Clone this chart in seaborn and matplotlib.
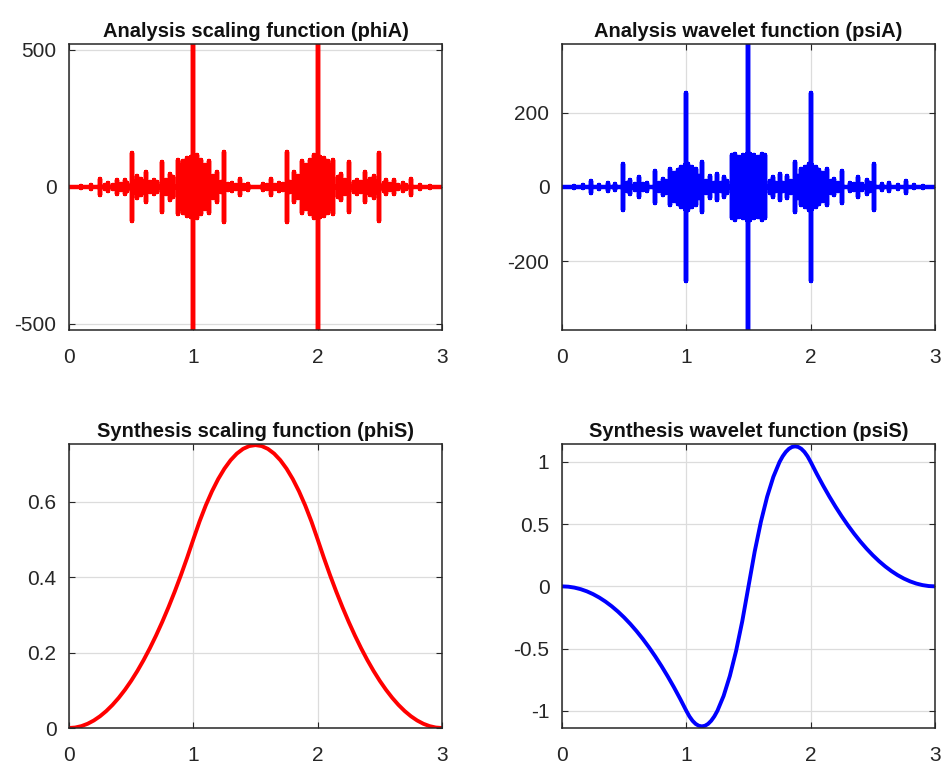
import matplotlib
matplotlib.use("Agg")
import pandas as pd
import matplotlib.pyplot as plt
import matplotlib.ticker as mticker
import seaborn as sns

# bior3.1 wavelet functions
x_ticks = [0, 1, 2, 3]

# analysis scaling function (phiA): spike positions and half heights
phiA_x = [0.0, 0.1, 0.18, 0.25, 0.29, 0.316, 0.35, 0.383, 0.42, 0.45,
          0.47, 0.504, 0.53, 0.55, 0.58, 0.60, 0.62, 0.65, 0.68, 0.71,
          0.75, 0.78, 0.81, 0.84, 0.874, 0.89, 0.905, 0.92, 0.935, 0.95,
          0.965, 0.98, 1.0, 1.015, 1.03, 1.045, 1.06, 1.075, 1.09, 1.11,
          1.126, 1.145, 1.16, 1.19, 1.22, 1.25, 1.28, 1.31, 1.345, 1.375,
          1.41, 1.44,
          1.56, 1.59, 1.625, 1.655, 1.69, 1.72, 1.75, 1.78, 1.81, 1.84,
          1.855, 1.874, 1.89, 1.91, 1.925, 1.94, 1.955, 1.97, 1.985, 2.0,
          2.02, 2.035, 2.05, 2.065, 2.08, 2.095, 2.11, 2.126, 2.16, 2.19,
          2.22, 2.25, 2.29, 2.32, 2.35, 2.38, 2.40, 2.42, 2.45, 2.47,
          2.496, 2.53, 2.55, 2.58, 2.617, 2.65, 2.684, 2.71, 2.75, 2.82,
          2.9, 3.0]
phiA_amp = [0, 4, 6, 30, 8, 15, 8, 25, 10, 25,
            15, 124, 20, 40, 30, 18, 55, 20, 25, 20,
            92, 25, 48, 35, 100, 60, 80, 95, 70, 105,
            90, 110, 900, 100, 115, 95, 100, 70, 80, 50,
            95, 30, 40, 55, 20, 128, 10, 15, 8, 30,
            6, 10,
            10, 6, 30, 8, 15, 10, 128, 20, 55, 40,
            30, 95, 50, 80, 70, 100, 95, 115, 100, 900,
            110, 90, 105, 70, 95, 80, 60, 100, 35, 48,
            25, 92, 20, 25, 20, 55, 18, 30, 40, 20,
            124, 15, 25, 10, 25, 8, 15, 8, 30, 6,
            4, 0]

# analysis wavelet function (psiA)
psiA_x = [0.0, 0.1, 0.17, 0.236, 0.30, 0.37, 0.43, 0.49, 0.52, 0.55,
          0.585, 0.62, 0.65, 0.68, 0.745, 0.78, 0.81, 0.84, 0.866, 0.885,
          0.90, 0.915, 0.93, 0.945, 0.96, 0.975, 0.99, 1.0, 1.015, 1.03,
          1.045, 1.06, 1.08, 1.10, 1.126, 1.155, 1.19, 1.22, 1.25, 1.28,
          1.30, 1.33, 1.365, 1.38, 1.395, 1.41, 1.425, 1.44, 1.455, 1.47,
          1.485, 1.5,
          1.515, 1.53, 1.545, 1.56, 1.575, 1.59, 1.605, 1.62, 1.635, 1.67,
          1.70, 1.72, 1.75, 1.78, 1.81, 1.845, 1.874, 1.90, 1.92, 1.94,
          1.955, 1.97, 1.985, 2.0, 2.01, 2.025, 2.04, 2.055, 2.07, 2.085,
          2.10, 2.115, 2.134, 2.16, 2.19, 2.22, 2.255, 2.32, 2.35, 2.38,
          2.415, 2.45, 2.48, 2.51, 2.57, 2.63, 2.70, 2.764, 2.83, 2.9,
          3.0]
psiA_amp = [0, 3, 4, 15, 5, 12, 8, 63, 10, 20,
            8, 27, 8, 12, 44, 12, 22, 15, 49, 30,
            38, 35, 45, 40, 55, 50, 60, 254, 62, 50,
            55, 40, 48, 30, 68, 15, 30, 12, 34, 10,
            27, 15, 85, 70, 88, 75, 80, 70, 85, 80,
            90, 900,
            90, 80, 85, 70, 80, 75, 88, 70, 85, 15,
            27, 10, 34, 12, 30, 15, 68, 30, 48, 40,
            55, 50, 62, 254, 60, 50, 55, 40, 45, 35,
            38, 30, 49, 15, 22, 12, 44, 12, 8, 27,
            8, 20, 10, 63, 8, 12, 5, 15, 4, 3,
            0]

# synthesis scaling function (phiS)
phiS_x = [0.0, 0.05, 0.1, 0.15, 0.2, 0.25, 0.3, 0.35, 0.4, 0.45, 0.5, 0.55, 0.6, 0.65,
          0.7, 0.75, 0.8, 0.85, 0.9, 0.95, 1.0, 1.05, 1.1, 1.15, 1.2, 1.25, 1.3, 1.35,
          1.4, 1.45, 1.5, 1.55, 1.6, 1.65, 1.7, 1.75, 1.8, 1.85, 1.9, 1.95, 2.0, 2.05,
          2.1, 2.15, 2.2, 2.25, 2.3, 2.35, 2.4, 2.45, 2.5, 2.55, 2.6, 2.65, 2.7, 2.75,
          2.8, 2.85, 2.9, 2.95, 3.0]
phiS_y = [0.0, 0.00125, 0.005, 0.01125, 0.02, 0.03125, 0.045, 0.06125, 0.08, 0.10125,
          0.125, 0.15125, 0.18, 0.21125, 0.245, 0.28125, 0.32, 0.36125, 0.405, 0.45125,
          0.5, 0.5475, 0.59, 0.6275, 0.66, 0.6875, 0.71, 0.7275, 0.74, 0.7475,
          0.75, 0.7475, 0.74, 0.7275, 0.71, 0.6875, 0.66, 0.6275, 0.59, 0.5475,
          0.5, 0.45125, 0.405, 0.36125, 0.32, 0.28125, 0.245, 0.21125, 0.18, 0.15125,
          0.125, 0.10125, 0.08, 0.06125, 0.045, 0.03125, 0.02, 0.01125, 0.005, 0.00125,
          0.0]

# synthesis wavelet function (psiS)
psiS_x = [0.0, 0.05, 0.1, 0.15, 0.2, 0.25, 0.3, 0.35, 0.4, 0.45, 0.5, 0.55, 0.6, 0.65,
          0.7, 0.75, 0.8, 0.85, 0.9, 0.95, 1.0, 1.025, 1.05, 1.075, 1.1, 1.125, 1.15,
          1.175, 1.2, 1.225, 1.25, 1.3, 1.35, 1.4, 1.45, 1.5, 1.55, 1.6, 1.65, 1.7,
          1.75, 1.775, 1.8, 1.825, 1.85, 1.875, 1.9, 1.925, 1.95, 1.975, 2.0, 2.05,
          2.1, 2.15, 2.2, 2.25, 2.3, 2.35, 2.4, 2.45, 2.5, 2.55, 2.6, 2.65, 2.7, 2.75,
          2.8, 2.85, 2.9, 2.95, 3.0]
psiS_y = [0.0, -0.0025, -0.01, -0.0225, -0.04, -0.0625, -0.09, -0.1225, -0.16, -0.2025,
          -0.25, -0.3025, -0.36, -0.4225, -0.49, -0.5625, -0.64, -0.7225, -0.81, -0.9025,
          -1.0, -1.045, -1.08, -1.105, -1.12, -1.125, -1.12, -1.105, -1.08, -1.045,
          -1.0, -0.88, -0.72, -0.52, -0.28, 0.0, 0.28, 0.52, 0.72, 0.88,
          1.0, 1.045, 1.08, 1.105, 1.12, 1.125, 1.12, 1.105, 1.08, 1.045, 1.0, 0.9025,
          0.81, 0.7225, 0.64, 0.5625, 0.49, 0.4225, 0.36, 0.3025, 0.25, 0.2025, 0.16,
          0.1225, 0.09, 0.0625, 0.04, 0.0225, 0.01, 0.0025, 0.0]


def spikes_frame(xs, amps):
    """각 위치에서 위아래로 튀는 선을 하나의 경로로 이어 붙임"""
    rows = []
    for x, a in zip(xs, amps):
        rows += [(x, 0.0), (x, a), (x, -a), (x, 0.0)]
    return pd.DataFrame(rows, columns = ["x", "y"])


def style_axes(ax, title, yticks, ylim):
    ax.set_xlim(0, 3)
    ax.set_ylim(*ylim)
    ax.set_xticks(x_ticks)
    ax.set_yticks(yticks)
    ax.xaxis.set_major_formatter(mticker.FormatStrFormatter("%g"))
    ax.yaxis.set_major_formatter(mticker.FormatStrFormatter("%g"))
    ax.set_xlabel("")
    ax.set_ylabel("")
    ax.grid(True, color = "#dcdcdc", linewidth = 0.9)
    ax.set_axisbelow(True)
    ax.tick_params(direction = "in", top = True, right = True, length = 4, width = 0.8,
                   colors = "#262626", labelsize = 15)
    ax.tick_params(axis = "x", pad = 13)
    ax.tick_params(axis = "y", pad = 9)
    for sp in ax.spines.values():
        sp.set_visible(True)
        sp.set_color("#262626")
        sp.set_linewidth(1.1)
    ax.set_title(title, fontsize = 14.5, weight = "bold", color = "#111111", pad = 5)


sns.set_style("ticks")
plt.rcParams["font.family"] = ["Liberation Sans", "DejaVu Sans"]
plt.rcParams["axes.unicode_minus"] = False

fig = plt.figure(figsize = (9.45, 7.66), dpi = 100)
ax1 = fig.add_axes([0.0730, 0.5692, 0.3947, 0.3734])
ax2 = fig.add_axes([0.5947, 0.5692, 0.3947, 0.3734])
ax3 = fig.add_axes([0.0730, 0.0496, 0.3947, 0.3708])
ax4 = fig.add_axes([0.5947, 0.0496, 0.3947, 0.3708])

sns.lineplot(data = spikes_frame(phiA_x, phiA_amp), x = "x", y = "y", sort = False,
             estimator = None, color = "#ff0000", linewidth = 3.2, ax = ax1)
sns.lineplot(data = spikes_frame(psiA_x, psiA_amp), x = "x", y = "y", sort = False,
             estimator = None, color = "#0000ff", linewidth = 3.2, ax = ax2)
sns.lineplot(x = phiS_x, y = phiS_y, color = "#ff0000", linewidth = 2.8, ax = ax3)
sns.lineplot(x = psiS_x, y = psiS_y, color = "#0000ff", linewidth = 2.8, ax = ax4)

style_axes(ax1, "Analysis scaling function (phiA)", [-500, 0, 500], (-522, 522))
style_axes(ax2, "Analysis wavelet function (psiA)", [-200, 0, 200], (-386, 386))
style_axes(ax3, "Synthesis scaling function (phiS)", [0, 0.2, 0.4, 0.6], (0, 0.753))
style_axes(ax4, "Synthesis wavelet function (psiS)", [-1, -0.5, 0, 0.5, 1], (-1.138, 1.144))

fig.savefig("out.png", dpi = 100)
plt.close(fig)
